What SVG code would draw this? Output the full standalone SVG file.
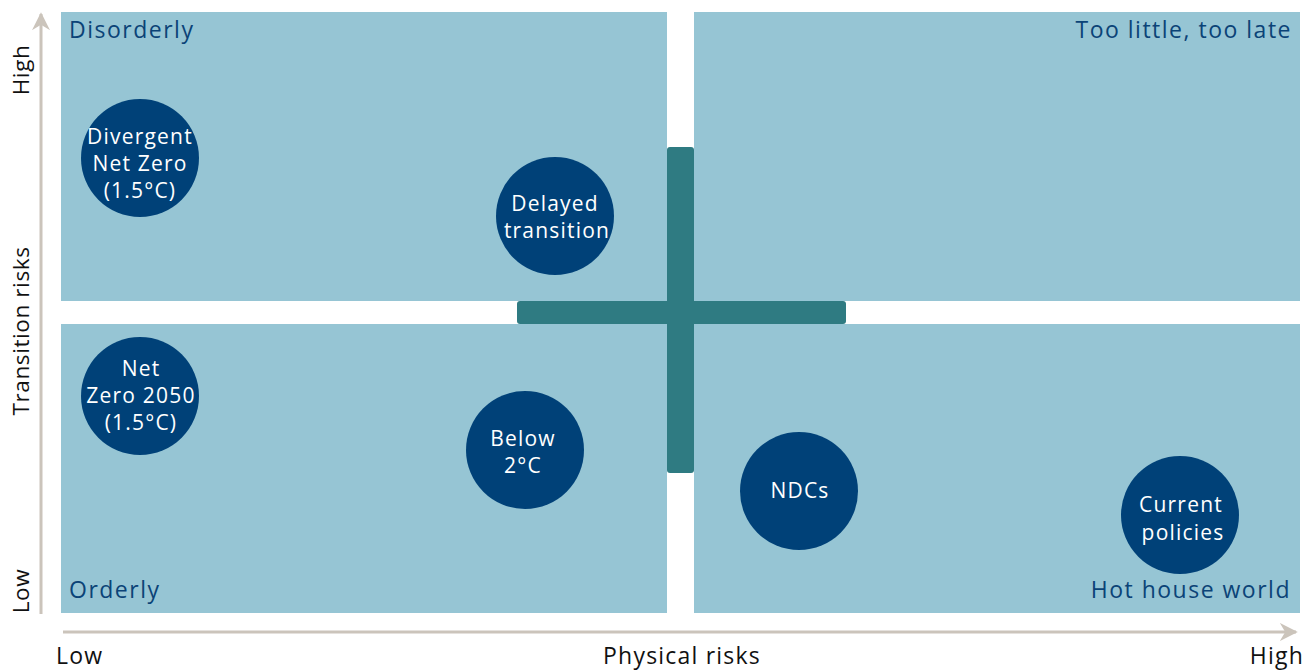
<svg xmlns="http://www.w3.org/2000/svg" width="1315" height="671" viewBox="0 0 1315 671">
  <style>
    .quad { fill: #96c5d4; }
    .cross { fill: #2f7b82; }
    .dot { fill: #004178; }
    .qtitle { font-family: "Open Sans", "Noto Sans", sans-serif; font-size: 23px; letter-spacing: 1.5px; fill: #0b4377; }
    .dtext { font-family: "Open Sans", "Noto Sans", sans-serif; font-size: 21px; letter-spacing: 1.2px; fill: #ffffff; text-anchor: middle; }
    .axis { stroke: #cbc4bb; stroke-width: 3; fill: none; }
    .alabel { font-family: "Open Sans", "Noto Sans", sans-serif; font-size: 23px; letter-spacing: 1.2px; fill: #111111; }
    .vlabel { font-family: "Open Sans", "Noto Sans", sans-serif; font-size: 22.5px; letter-spacing: 0.6px; fill: #111111; text-anchor: middle; }
  </style>
  <defs>
    <marker id="ah" viewBox="0 0 10 10" refX="9" refY="5" markerWidth="6" markerHeight="7" markerUnits="strokeWidth" orient="auto">
      <path d="M0,0 L10,5 L0,10 L3,5 Z" fill="#cbc4bb"/>
    </marker>
  </defs>

  <!-- quadrants -->
  <g id="q-disorderly">
    <rect class="quad" x="61" y="12" width="606" height="289"/>
    <text class="qtitle" x="69" y="38">Disorderly</text>
  </g>
  <g id="q-too-little">
    <rect class="quad" x="694" y="12" width="606" height="289"/>
    <text class="qtitle" x="1292" y="38" text-anchor="end">Too little, too late</text>
  </g>
  <g id="q-orderly">
    <rect class="quad" x="61" y="324" width="606" height="289"/>
    <text class="qtitle" x="69" y="598">Orderly</text>
  </g>
  <g id="q-hot-house">
    <rect class="quad" x="694" y="324" width="606" height="289"/>
    <text class="qtitle" x="1291" y="598" text-anchor="end">Hot house world</text>
  </g>

  <!-- central cross -->
  <g id="cross">
    <rect class="cross" x="667" y="147" width="27" height="326" rx="3"/>
    <rect class="cross" x="517" y="301" width="329" height="23" rx="3"/>
  </g>

  <!-- scenarios -->
  <g id="s-divergent">
    <circle class="dot" cx="140" cy="158" r="59"/>
    <text class="dtext" x="140" y="144">Divergent</text>
    <text class="dtext" x="140" y="171">Net Zero</text>
    <text class="dtext" x="140" y="198">(1.5°C)</text>
  </g>
  <g id="s-delayed">
    <circle class="dot" cx="555" cy="216" r="59"/>
    <text class="dtext" x="555" y="211">Delayed</text>
    <text class="dtext" x="557" y="238">transition</text>
  </g>
  <g id="s-netzero">
    <circle class="dot" cx="140" cy="396" r="59"/>
    <text class="dtext" x="141" y="376">Net</text>
    <text class="dtext" x="141" y="403">Zero 2050</text>
    <text class="dtext" x="141" y="430">(1.5°C)</text>
  </g>
  <g id="s-below2">
    <circle class="dot" cx="525" cy="450" r="59"/>
    <text class="dtext" x="523" y="446">Below</text>
    <text class="dtext" x="523" y="473">2°C</text>
  </g>
  <g id="s-ndcs">
    <circle class="dot" cx="799" cy="491" r="59"/>
    <text class="dtext" x="800" y="498">NDCs</text>
  </g>
  <g id="s-current">
    <circle class="dot" cx="1180" cy="515" r="59"/>
    <text class="dtext" x="1181" y="512">Current</text>
    <text class="dtext" x="1183" y="540">policies</text>
  </g>

  <!-- axes -->
  <g id="axes">
    <line class="axis" x1="41" y1="614" x2="41" y2="14" marker-end="url(#ah)"/>
    <line class="axis" x1="63" y1="632" x2="1296" y2="632" marker-end="url(#ah)"/>
  </g>
  <g id="axis-labels">
    <text class="vlabel" transform="translate(29,70) rotate(-90)">High</text>
    <text class="vlabel" transform="translate(29,591) rotate(-90)">Low</text>
    <text class="vlabel" transform="translate(29,331) rotate(-90)">Transition risks</text>
    <text class="alabel" x="56" y="664">Low</text>
    <text class="alabel" x="682" y="664" text-anchor="middle">Physical risks</text>
    <text class="alabel" x="1304" y="664" text-anchor="end">High</text>
  </g>
</svg>
